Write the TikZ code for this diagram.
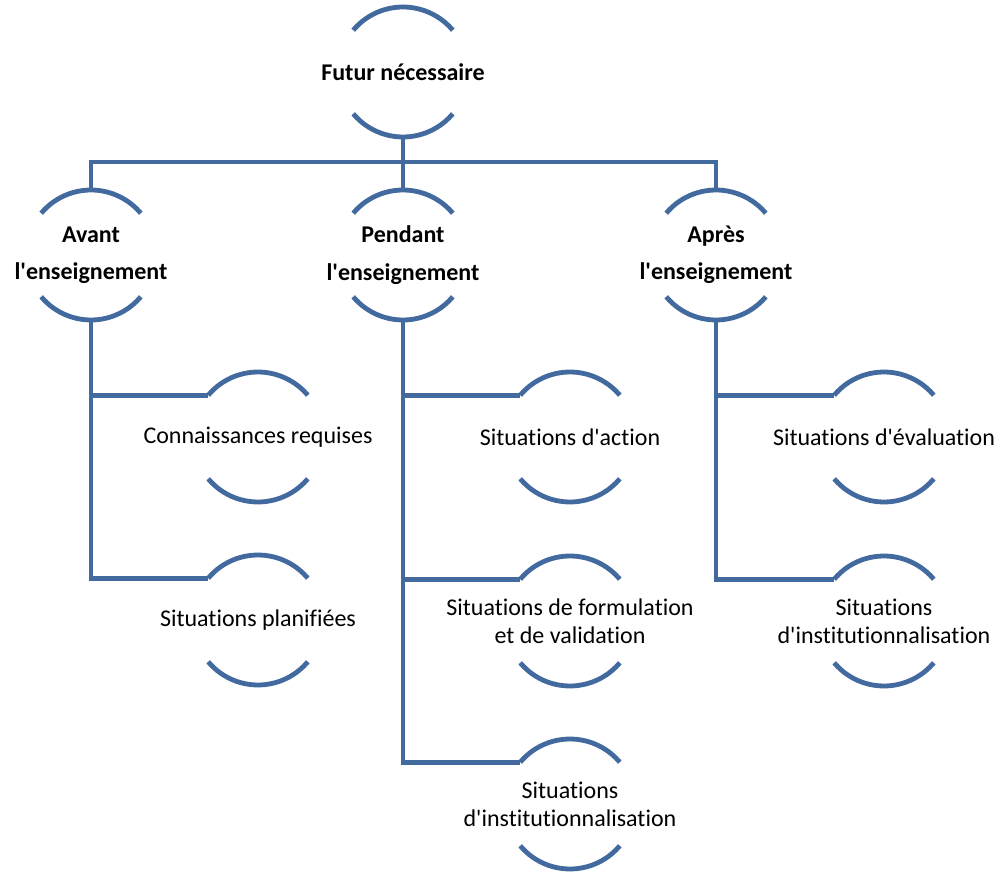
\documentclass[tikz,border=0pt]{standalone}
\usepackage{fontspec}
\newfontfamily\calib{Carlito}[Ligatures=NoCommon]
\usetikzlibrary{calc}
\definecolor{linkblue}{RGB}{66,106,158}
\newcommand{\rad}{65}

\begin{document}
\begin{tikzpicture}[x=0.75pt, y=0.75pt,
    every node/.style={rectangle, inner sep=0pt, minimum height=97.5pt, align=center, font=\calib\fontsize{18}{21}\selectfont},
    head/.style={font=\calib\fontsize{18}{21}\selectfont\bfseries},
    link/.style={draw=linkblue, line width=3.6pt}]
                \useasboundingbox (0,0) rectangle (1003,-873);
                % levels
                \node[head] (fut) at (403,-72) {Futur nécessaire};
                \node[head] (av) at (91,-255) {Avant\\[7pt]l'enseignement};
                \node[head] (pen) at (403,-255) {Pendant\\[7pt]l'enseignement};
                \node[head] (apr) at (716,-255) {Après\\[7pt]l'enseignement};
                \node (cr) at (258,-437) {Connaissances requises};
                \node (sp) at (258,-620) {Situations planifiées};
                \node (sa) at (570,-437) {Situations d'action};
                \node (sf) at (570,-621) {Situations de formulation\\et de validation};
                \node (si) at (570,-804) {Situations\\d'institutionnalisation};
                \node (se) at (884,-437) {Situations d'évaluation};
                \node (sn) at (884,-621) {Situations\\d'institutionnalisation};
                % arcs
                \foreach \n in {fut,av,pen,apr,cr,sp,sa,sf,si,se,sn}{
                  \draw[link] ($(\n.center)+(140:\rad)$) arc[start angle=140, end angle=40, radius=\rad];
                  \draw[link] ($(\n.center)+(-140:\rad)$) arc[start angle=-140, end angle=-40, radius=\rad];
                  \coordinate (\n-in) at ($(\n.center)+(140:\rad)$);
                }
                % links
                \coordinate (bus) at (403,-162);
                \draw[link] (av.north) |- (bus) -| (apr.north);
                \draw[link] (fut.south) -- (pen.north);
                \draw[link] (av.south) |- (sp-in);
                \draw[link] (av.south |- cr-in) -- (cr-in);
                \draw[link] (pen.south) |- (si-in);
                \draw[link] (pen.south |- sa-in) -- (sa-in);
                \draw[link] (pen.south |- sf-in) -- (sf-in);
                \draw[link] (apr.south) |- (sn-in);
                \draw[link] (apr.south |- se-in) -- (se-in);
\end{tikzpicture}
\end{document}
